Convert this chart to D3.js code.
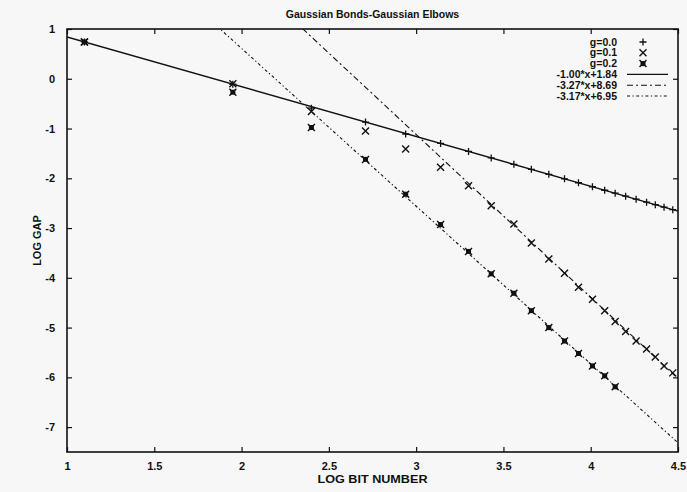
<!DOCTYPE html>
<html>
<head>
<meta charset="utf-8">
<script src="https://cdn.jsdelivr.net/npm/d3@7"></script>
<style>
  html, body { margin: 0; padding: 0; background: #f7f7f7; }
  svg { display: block; }
  text { font-family: "Liberation Sans", Arial, sans-serif; font-weight: bold; fill: #111; }
</style>
</head>
<body>
<script>
// log of bit number for each measured chain
const logBits0 = [1.10, 1.95, 2.40, 2.71, 2.94, 3.14, 3.30, 3.43, 3.56, 3.66, 3.76, 3.85, 3.93, 4.01, 4.08, 4.14, 4.20, 4.26, 4.32, 4.37, 4.42, 4.47];
const logGap0 = [0.74, -0.11, -0.59, -0.87, -1.11, -1.30, -1.46, -1.59, -1.72, -1.82, -1.92, -2.01, -2.09, -2.17, -2.24, -2.30, -2.36, -2.42, -2.48, -2.53, -2.58, -2.63];

const logBits1 = [1.10, 1.95, 2.40, 2.71, 2.94, 3.14, 3.30, 3.43, 3.56, 3.66, 3.76, 3.85, 3.93, 4.01, 4.08, 4.14, 4.20, 4.26, 4.32, 4.37, 4.42, 4.47];
const logGap1 = [0.74, -0.10, -0.66, -1.05, -1.41, -1.78, -2.15, -2.55, -2.92, -3.30, -3.62, -3.91, -4.19, -4.43, -4.66, -4.88, -5.08, -5.27, -5.43, -5.59, -5.77, -5.91];

const logBits2 = [1.10, 1.95, 2.40, 2.71, 2.94, 3.14, 3.30, 3.43, 3.56, 3.66, 3.76, 3.85, 3.93, 4.01, 4.08, 4.14];
const logGap2 = [0.74, -0.27, -0.98, -1.62, -2.32, -2.93, -3.47, -3.92, -4.31, -4.66, -5.00, -5.27, -5.52, -5.77, -5.97, -6.19];

const seriesLabels = ["g=0.0", "g=0.1", "g=0.2"];

// fitted lines: slope, intercept
const fitSlopes = [-1.00, -3.27, -3.17];
const fitIntercepts = [1.84, 8.69, 6.95];
const fitLabels = ["-1.00*x+1.84", "-3.27*x+8.69", "-3.17*x+6.95"];

const xTicks = [1, 1.5, 2, 2.5, 3, 3.5, 4, 4.5];
const yTicks = [1, 0, -1, -2, -3, -4, -5, -6, -7];

const W = 687, H = 492;
const pLeft = 67, pRight = 678, pTop = 29, pBottom = 452;

const svg = d3.select("body").append("svg").attr("width", W).attr("height", H);
svg.append("rect").attr("width", W).attr("height", H).attr("fill", "#f7f7f7");

const x = d3.scaleLinear().domain([1, 4.5]).range([pLeft, pRight]);
const y = d3.scaleLinear().domain([-7.5, 1]).range([pBottom, pTop]);

const ink = "#111";

// axes with mirrored ticks
const axB = svg.append("g").attr("transform", `translate(0,${pBottom})`)
  .call(d3.axisBottom(x).tickValues(xTicks).tickSizeInner(-5).tickSizeOuter(0).tickPadding(10));
const axT = svg.append("g").attr("transform", `translate(0,${pTop})`)
  .call(d3.axisTop(x).tickValues(xTicks).tickFormat("").tickSizeInner(-5).tickSizeOuter(0));
const axL = svg.append("g").attr("transform", `translate(${pLeft},0)`)
  .call(d3.axisLeft(y).tickValues(yTicks).tickSizeInner(-5).tickSizeOuter(0).tickPadding(12));
const axR = svg.append("g").attr("transform", `translate(${pRight},0)`)
  .call(d3.axisRight(y).tickValues(yTicks).tickFormat("").tickSizeInner(-5).tickSizeOuter(0));

[axB, axT, axL, axR].forEach(a => {
  a.select(".domain").remove();
  a.selectAll(".tick line").attr("stroke", ink).attr("stroke-width", 1.2);
  a.selectAll(".tick text").attr("font-size", 11).attr("font-family", "Liberation Sans, Arial, sans-serif").attr("font-weight", "bold").attr("fill", ink);
});
axB.selectAll(".tick text").text(d => Number.isInteger(d) ? String(d) : d3.format(".1f")(d));
axL.selectAll(".tick text").text(d => d < 0 ? "-" + Math.abs(d) : String(d));

// frame
svg.append("rect").attr("x", pLeft).attr("y", pTop).attr("width", pRight - pLeft).attr("height", pBottom - pTop)
  .attr("fill", "none").attr("stroke", ink).attr("stroke-width", 1.6);

// clip for plot contents
svg.append("clipPath").attr("id", "plotclip").append("rect")
  .attr("x", pLeft).attr("y", pTop).attr("width", pRight - pLeft).attr("height", pBottom - pTop);
const plot = svg.append("g").attr("clip-path", "url(#plotclip)");

// fitted lines
const dashes = [null, "6,3,2,3", "3,2.5,1.2,2.5"];
const widths = [1.4, 1.1, 1.1];
fitSlopes.forEach((m, i) => {
  const b = fitIntercepts[i];
  plot.append("line")
    .attr("x1", x(1)).attr("y1", y(m * 1 + b))
    .attr("x2", x(4.5)).attr("y2", y(m * 4.5 + b))
    .attr("stroke", ink).attr("stroke-width", widths[i])
    .attr("stroke-dasharray", dashes[i]);
});

// marker drawers
function plus(g, cx, cy, s) {
  g.append("path").attr("d", `M${cx - s},${cy}H${cx + s}M${cx},${cy - s}V${cy + s}`)
    .attr("stroke", ink).attr("stroke-width", 1.3).attr("fill", "none");
}
function cross(g, cx, cy, s) {
  g.append("path").attr("d", `M${cx - s},${cy - s}L${cx + s},${cy + s}M${cx - s},${cy + s}L${cx + s},${cy - s}`)
    .attr("stroke", ink).attr("stroke-width", 1.4).attr("fill", "none");
}
function boxStar(g, cx, cy, s) {
  g.append("rect").attr("x", cx - s + 1).attr("y", cy - s + 1).attr("width", 2 * s - 2).attr("height", 2 * s - 2).attr("fill", ink);
  cross(g, cx, cy, s);
}
const drawers = [plus, cross, boxStar];
const sizes = [3.5, 3.5, 3.5];

const xsets = [logBits0, logBits1, logBits2];
const ysets = [logGap0, logGap1, logGap2];
xsets.forEach((xs, i) => {
  const g = plot.append("g");
  xs.forEach((v, j) => drawers[i](g, x(v), y(ysets[i][j]), sizes[i]));
});

// legend
const legRight = 617, legMark = 643, lineX1 = 627, lineX2 = 668;
const rowY = d3.scaleLinear().domain([0, 5]).range([42, 96]);
seriesLabels.forEach((t, i) => {
  svg.append("text").attr("x", legRight).attr("y", rowY(i)).attr("dy", "0.35em")
    .attr("text-anchor", "end").attr("font-size", 10.5).text(t);
  drawers[i](svg, legMark, rowY(i), sizes[i]);
});
fitLabels.forEach((t, i) => {
  const r = rowY(i + 3);
  svg.append("text").attr("x", legRight).attr("y", r).attr("dy", "0.35em")
    .attr("text-anchor", "end").attr("font-size", 10.5).text(t);
  svg.append("line").attr("x1", lineX1).attr("x2", lineX2).attr("y1", r).attr("y2", r)
    .attr("stroke", ink).attr("stroke-width", widths[i]).attr("stroke-dasharray", dashes[i]);
});

// title and axis labels
svg.append("text").attr("x", (pLeft + pRight) / 2).attr("y", 18).attr("text-anchor", "middle")
  .attr("font-size", 10.5).text("Gaussian Bonds-Gaussian Elbows");
svg.append("text").attr("x", (pLeft + pRight) / 2).attr("y", 483).attr("text-anchor", "middle")
  .attr("font-size", 11).attr("textLength", 110).attr("lengthAdjust", "spacingAndGlyphs").text("LOG BIT NUMBER");
svg.append("text").attr("transform", `translate(41,${(pTop + pBottom) / 2}) rotate(-90)`)
  .attr("text-anchor", "middle").attr("font-size", 11).text("LOG GAP");
</script>
</body>
</html>
